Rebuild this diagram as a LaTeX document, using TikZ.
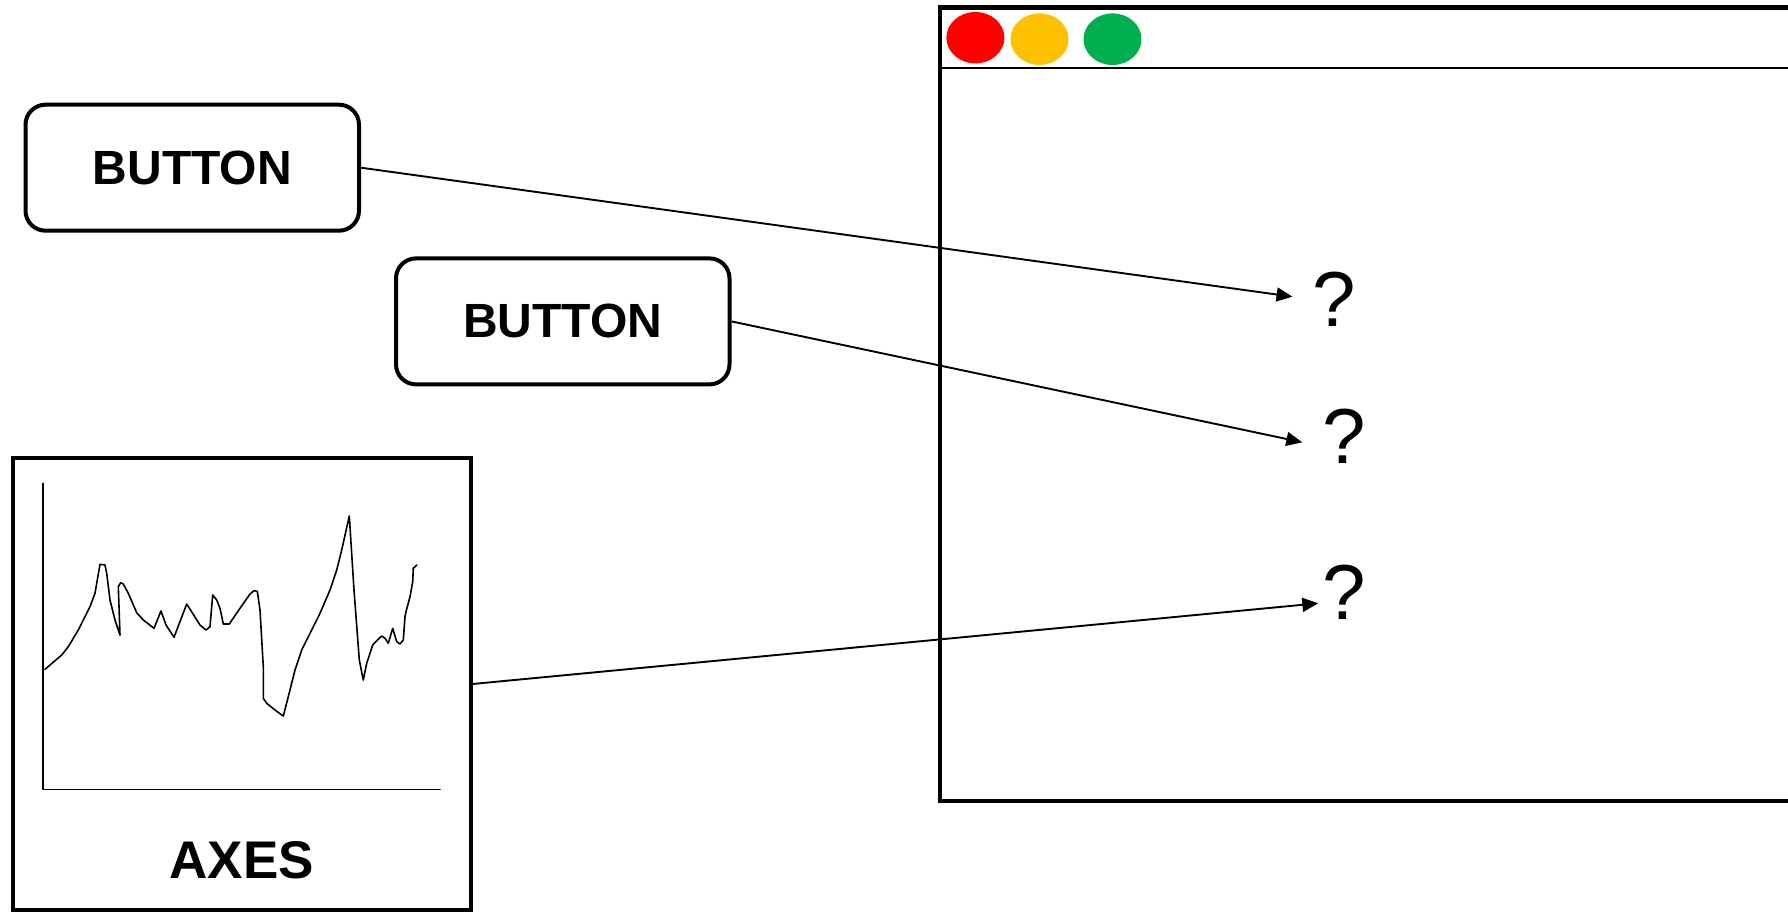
\documentclass[tikz,border=0pt]{standalone}
\usepackage{fontspec}
\setmainfont{Liberation Sans}
\usetikzlibrary{arrows.meta}

\definecolor{dotred}{HTML}{FF0000}
\definecolor{dotyellow}{HTML}{FFC000}
\definecolor{dotgreen}{HTML}{00B050}

\begin{document}
\begin{tikzpicture}[x=1pt, y=-1pt,
  btnbox/.style={draw, line width=4pt, rounded corners=20pt, minimum width=333.5pt,
    minimum height=126pt, inner sep=0pt, font=\fontsize{48}{48}\selectfont\bfseries},
  axbox/.style={draw, line width=4pt, minimum width=458pt, minimum height=452pt, inner sep=0pt},
  qmark/.style={anchor=base, inner sep=0pt, font=\fontsize{78}{78}\selectfont},
  link/.style={line width=1.9pt, -{Triangle[length=16pt, width=14pt]}},
  plotline/.style={line width=1.6pt, line join=round, line cap=round}
]
\useasboundingbox (0,0) rectangle (1788,912);

% application window (runs off the right edge)
\draw[line width=4.5pt] (1810,7.5) -- (940,7.5) -- (940,801) -- (1810,801);
\draw[line width=2pt] (940,67.8) -- (1810,67.8);
\fill[dotred] (975.4,37.7) ellipse [x radius=29, y radius=25.7];
\fill[dotyellow] (1039.5,39.2) ellipse [x radius=29, y radius=25.8];
\fill[dotgreen] (1112.5,39.2) ellipse [x radius=29, y radius=25.8];

% widgets
\node[btnbox] (btnA) at (192.25,167.7) {BUTTON};
\node[btnbox] (btnB) at (562.75,321.4) {BUTTON};
\node[axbox] (axes) at (241.5,684) {};

% plot inside the axes widget
\draw[plotline] (42.7,483.3) -- (42.7,789.3) -- (440,789.3);
\draw[plotline] (45,669.3) -- (61.7,655) -- (68.3,646.7) -- (78.3,630) -- (90,606.7)
  -- (95,593.3) -- (100,564.3) -- (105,565) -- (106.7,573.3) -- (110,600) -- (115,620)
  -- (120,635) -- (118.3,586.7) -- (120.7,582.7) -- (123.3,584) -- (128.3,593.3)
  -- (136.7,612.7) -- (143.3,620) -- (154,628.3) -- (161,611) -- (166,625) -- (174,637.3)
  -- (186.7,604) -- (200,625) -- (206,630) -- (210,626.7) -- (212.7,595) -- (216.7,600)
  -- (220,608.3) -- (223.3,624) -- (229.3,624) -- (240,608.3) -- (250,594) -- (254,590.7)
  -- (257.3,591.3) -- (260,610) -- (263.3,666.7) -- (263.3,698.3) -- (266.7,703.3)
  -- (275,710) -- (283.3,716) -- (290,690) -- (295,670) -- (301.7,650) -- (320,613.3)
  -- (330,590) -- (336.7,570) -- (341.7,550) -- (349.3,516) -- (354,590) -- (359.3,660)
  -- (363.3,680) -- (366.7,663.3) -- (372.7,645) -- (376.7,640.7) -- (381.7,636)
  -- (385,638.3) -- (388.3,643.3) -- (392.7,628.3) -- (396.7,641.7) -- (400,644)
  -- (403.3,640) -- (405,616.7) -- (406,611.7) -- (410,596.7) -- (412.7,581.7)
  -- (413.3,568.3) -- (416.7,565);
\node[anchor=base, inner sep=0pt, font=\fontsize{53}{53}\selectfont\bfseries] (axlabel) at (241.7,878.3) {AXES};

% placeholders in the window
\node[qmark] (qA) at (1334,326) {?};
\node[qmark] (qB) at (1344,463) {?};
\node[qmark] (qC) at (1344,619.3) {?};
\coordinate (tipA) at (1292.5,296.7);
\coordinate (tipB) at (1302.3,442.3);
\coordinate (tipC) at (1318.3,603.3);

% connectors
\draw[link] (btnA.east) -- (tipA);
\draw[link] (btnB.east) -- (tipB);
\draw[link] (axes.east) -- (tipC);
\end{tikzpicture}
\end{document}
